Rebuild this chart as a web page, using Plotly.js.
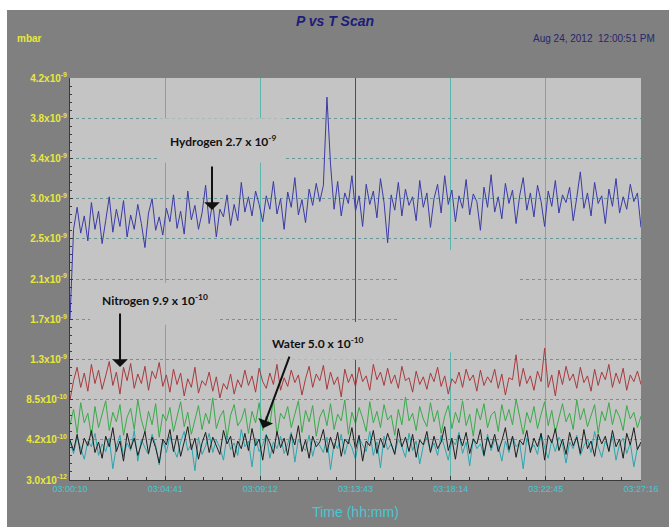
<!DOCTYPE html>
<html>
<head>
<meta charset="utf-8">
<script src="https://cdn.plot.ly/plotly-3.0.1.min.js"></script>
<style>
  html, body { margin: 0; padding: 0; background: #ffffff; width: 669px; height: 527px; overflow: hidden; }
  #chart { position: absolute; left: 7px; top: 10px; width: 662px; height: 517px; }
</style>
</head>
<body>
<div id="chart"></div>
<script>
// Time axis: seconds after 03:00:10
const timeTickVals = [0, 271, 542, 813, 1084, 1355, 1626];
const timeTickText = ["03:00:10", "03:04:41", "03:09:12", "03:13:43", "03:18:14", "03:22:45", "03:27:16"];
const scanSeconds = 1626;

// Pressure axis ticks (mbar)
const pTickVals = [3.0e-12, 4.227e-10, 8.424e-10, 1.2621e-9, 1.6818e-9, 2.1015e-9, 2.5212e-9, 2.9409e-9, 3.3606e-9, 3.7803e-9, 4.2e-9];
const pTickText = ["3.0x10<sup>-12</sup>", "4.2x10<sup>-10</sup>", "8.5x10<sup>-10</sup>", "1.3x10<sup>-9</sup>", "1.7x10<sup>-9</sup>",
  "2.1x10<sup>-9</sup>", "2.5x10<sup>-9</sup>", "3.0x10<sup>-9</sup>", "3.4x10<sup>-9</sup>", "3.8x10<sup>-9</sup>", "4.2x10<sup>-9</sup>"];

// Series values, in units of 1e-11 mbar
const hydrogen = [168,262,285,258,276,250,290,262,281,247,
  271,296,259,283,265,292,254,277,262,288,
  268,243,279,294,261,275,256,284,270,298,
  263,281,257,302,272,287,262,279,308,268,
  291,254,283,275,298,266,288,271,311,280,
  296,276,302,288,270,297,283,312,278,294,
  262,301,285,316,277,293,269,304,287,310,
  291,308,400,330,283,312,276,300,289,318,
  281,297,265,309,288,302,274,315,290,248,
  298,282,311,276,304,287,296,271,313,285,
  300,264,294,309,279,318,288,303,270,297,
  284,314,277,299,291,261,306,285,319,280,
  296,273,310,289,303,268,297,316,282,300,
  275,308,291,265,302,286,313,279,298,290,
  306,271,295,322,284,300,276,311,289,297,
  268,304,286,315,279,296,283,309,291,300,
  264];
const nitrogen = [84,104,118,97,112,93,121,101,115,95,
  109,124,99,113,90,118,104,122,96,111,
  101,119,94,114,106,123,98,110,92,116,
  100,112,88,106,97,118,91,104,99,113,
  93,108,86,101,95,111,90,105,97,115,
  99,109,92,117,103,96,112,100,121,94,
  107,98,115,102,110,89,106,119,97,111,
  104,120,95,113,100,108,87,116,102,111,
  98,118,103,109,94,121,105,113,99,117,
  101,110,96,119,104,107,92,114,100,108,
  95,112,103,118,98,109,90,106,101,113,
  97,116,104,110,93,115,99,108,102,116,
  96,111,89,107,105,131,98,117,101,109,
  94,114,103,138,97,110,88,115,100,119,
  104,111,96,118,102,109,93,116,99,113,
  105,121,97,112,101,117,94,110,103,114,
  100];
const water = [58,74,49,81,60,70,46,77,55,68,
  83,52,71,61,79,47,66,75,53,84,
  63,50,72,58,80,45,69,62,76,51,
  67,82,56,71,48,64,78,53,70,59,
  86,54,66,73,44,68,79,57,63,75,
  49,72,60,81,52,67,58,85,47,70,
  64,77,55,69,83,50,73,61,78,46,
  66,74,57,80,53,69,62,84,48,71,
  59,76,65,51,82,60,72,55,79,63,
  68,47,74,58,87,62,70,52,77,64,
  56,81,61,73,49,67,78,54,71,60,
  83,57,69,46,75,63,80,55,68,72,
  51,79,62,74,58,85,66,48,71,60,
  77,54,69,82,57,73,50,65,80,61,
  70,53,84,63,75,56,68,79,49,72,
  62,81,58,74,66,52,78,64,71,55,
  67];
const cyanSeries = [40,28,45,33,22,41,35,49,26,38,
  30,44,12,36,47,25,39,31,52,20,
  43,34,27,48,37,16,42,29,46,33,
  24,40,51,31,38,10,45,27,36,49,
  29,42,34,21,47,32,39,26,53,35,
  41,14,44,30,37,48,23,40,33,46,
  28,38,50,19,43,35,31,47,25,41,
  36,29,45,11,39,33,48,27,42,34,
  22,44,37,30,51,26,40,13,46,32,
  38,28,43,35,24,49,31,41,17,36,
  45,30,39,26,47,34,21,42,37,50,
  28,40,15,44,33,38,25,48,31,43,
  36,20,41,29,46,35,39,12,44,32,
  37,27,49,34,23,42,30,45,38,18,
  40,33,47,26,36,43,29,51,35,24,
  41,31,46,21,38,44,28,39,14,34,
  37];
const blackSeries = [42,31,48,27,44,36,52,29,40,23,
  46,35,55,30,41,20,49,33,44,26,
  38,51,28,45,34,18,43,37,53,30,
  47,25,40,56,32,44,22,39,50,29,
  45,35,27,52,38,46,24,41,33,49,
  31,54,36,43,21,47,39,28,51,34,
  44,26,48,37,57,30,42,23,46,35,
  40,53,29,45,33,50,25,43,38,55,
  32,47,20,41,36,52,28,44,34,49,
  39,27,54,35,45,30,48,24,42,37,
  51,29,46,33,40,56,31,44,22,47,
  36,50,28,43,38,53,26,45,34,48,
  30,41,55,32,46,24,42,37,52,29,
  44,35,49,21,47,39,54,31,43,27,
  50,36,45,28,53,33,41,25,48,38,
  46,30,52,35,43,23,49,37,55,32,
  40];

const UNIT = 1e-11;
const n = hydrogen.length;
const times = hydrogen.map((_, i) => i * scanSeconds / (n - 1));
const toMbar = arr => arr.map(v => v * UNIT);

function line(y, color) {
  return { x: times, y: toMbar(y), type: 'scatter', mode: 'lines',
           line: { color: color, width: 1 }, hoverinfo: 'skip' };
}

const traces = [
  line(hydrogen, '#3a3aa6'),
  line(nitrogen, '#a83a3e'),
  line(water, '#3aaa4a'),
  line(cyanSeries, '#2aa6b0'),
  line(blackSeries, '#1e1e1e')
];

const plotBg = '#c4c4c4';
// plain boxes behind the text labels, covering the grid (as in the original screenshot)
function box(x0, x1, y0, y1) {
  return { type: 'rect', xref: 'paper', yref: 'paper', x0: x0, x1: x1, y0: y0, y1: y1,
           fillcolor: plotBg, line: { width: 0 }, layer: 'above' };
}

const narrow = 'Liberation Sans Narrow, Arial Narrow, sans-serif';
const labelFont = { family: 'Lato, sans-serif', size: 12, color: '#111111', weight: 'bold' };

function txt(x, y, text, font, xanchor) {
  return { xref: 'paper', yref: 'paper', x: x, y: y, text: text, font: font,
           showarrow: false, xanchor: xanchor || 'center', yanchor: 'middle' };
}
function arrow(x, y, ax, ay) {
  return { xref: 'paper', yref: 'paper', x: x, y: y, ax: ax, ay: ay, text: '',
           showarrow: true, arrowhead: 1, arrowsize: 1.3, arrowwidth: 2, arrowcolor: '#111111' };
}

const layout = {
  width: 662, height: 517,
  margin: { l: 63, r: 28, t: 68, b: 47 },
  paper_bgcolor: '#808080',
  plot_bgcolor: plotBg,
  showlegend: false,
  xaxis: {
    range: [0, scanSeconds],
    tickmode: 'array', tickvals: timeTickVals, ticktext: timeTickText,
    tickfont: { family: narrow, size: 9, color: '#46c8d2' },
    showgrid: true, gridcolor: '#5cb6b0', gridwidth: 1,
    showline: true, linecolor: '#3a3a3a', linewidth: 1,
    ticks: 'inside', ticklen: 4, tickcolor: '#3a3a3a',
    minor: { tick0: 0, dtick: 54.2, ticks: 'inside', ticklen: 3, tickcolor: '#3a3a3a', showgrid: false },
    zeroline: false,
    title: { text: 'Time (hh:mm)', font: { family: narrow, size: 14, color: '#46c8d2' }, standoff: 14 }
  },
  yaxis: {
    range: [3.0e-12, 4.2e-9],
    tickmode: 'array', tickvals: pTickVals, ticktext: pTickText,
    tickfont: { family: narrow, size: 10, color: '#e8e83c', weight: 'bold' },
    showgrid: true, gridcolor: '#6a9696', gridwidth: 1, griddash: 'dot',
    showline: true, linecolor: '#3a3a3a', linewidth: 1,
    ticks: 'inside', ticklen: 3, tickcolor: '#3a3a3a',
    minor: { tick0: 3.0e-12, dtick: 8.394e-11, ticks: 'inside', ticklen: 2, tickcolor: '#3a3a3a', showgrid: false },
    zeroline: false
  },
  shapes: [
    { type: 'line', xref: 'x', yref: 'paper', x0: timeTickVals[3], x1: timeTickVals[3], y0: 0, y1: 1,
      line: { color: '#505050', width: 1 }, layer: 'above' },
    box(0.152, 0.373, 0.789, 0.900),
    box(0.035, 0.257, 0.386, 0.490),
    box(0.342, 0.557, 0.299, 0.393),
    box(0.578, 0.785, 0.318, 0.572)
  ],
  annotations: [
    txt(0.464, 1.142, '<b><i>P vs T Scan</i></b>', { family: narrow, size: 14, color: '#1c1c7a' }),
    txt(-0.097, 1.0995, '<b>mbar</b>', { family: narrow, size: 10, color: '#e8e83c' }, 'left'),
    txt(1.028, 1.0995, 'Aug 24, 2012  12:00:51 PM', { family: narrow, size: 10, color: '#26266e' }, 'right'),
    txt(0.268, 0.843, 'Hydrogen 2.7 x 10<sup>-9</sup>', labelFont),
    txt(0.148, 0.448, 'Nitrogen 9.9 x 10<sup>-10</sup>', labelFont),
    txt(0.434, 0.341, 'Water 5.0 x 10<sup>-10</sup>', labelFont),
    arrow(0.2487, 0.6716, 0, -45),
    arrow(0.0876, 0.281, 0, -55),
    arrow(0.338, 0.129, 27, -73)
  ]
};

Plotly.newPlot('chart', traces, layout, { staticPlot: true, displayModeBar: false });
</script>
</body>
</html>
